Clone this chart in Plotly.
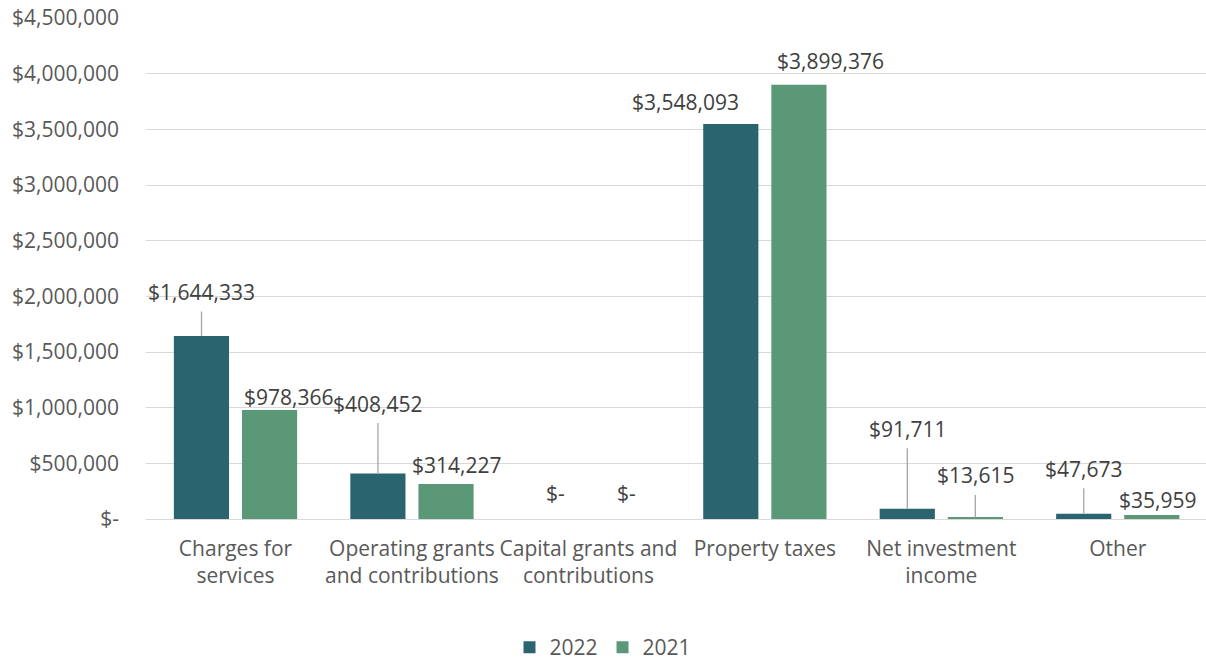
import plotly.graph_objects as go

categories = ["Charges for<br>services", "Operating grants<br>and contributions",
              "Capital grants and<br>contributions", "Property taxes",
              "Net investment<br>income", "Other"]
values_2022 = [1644333, 408452, 0, 3548093, 91711, 47673]
values_2021 = [978366, 314227, 0, 3899376, 13615, 35959]
series_names = ["2022", "2021"]
tick_vals = [0, 500000, 1000000, 1500000, 2000000, 2500000, 3000000, 3500000, 4000000, 4500000]

colors = ["#29646F", "#5A9878"]
FONT = "Open Sans"
TXT = "#595959"
FS = 21

def fmt(v):
    return "$-" if v == 0 else "${:,.0f}".format(v)

tick_text = [fmt(v) for v in tick_vals]

fig = go.Figure()
for name, vals, col in zip(series_names, [values_2022, values_2021], colors):
    fig.add_trace(go.Bar(x=categories, y=vals, name=name, marker_color=col,
                         marker_line_width=0))

# label offsets: (xshift, yshift or arrow offset, leader)
offs_2022 = [(0, -44, True), (3, -70, True), (1, 26, False), (-45, 22, False), (3, -80, True), (5, -45, True)]
offs_2021 = [(19, 13, False), (11, 19, False), (4, 26, False), (32, 24, False), (3, -42, True), (6, 15, False)]

annotations = []
for vals, offs, dx0 in [(values_2022, offs_2022, -34), (values_2021, offs_2021, 34)]:
    for cat, v, (dx, dy, leader) in zip(categories, vals, offs):
        if leader:
            annotations.append(dict(x=cat, y=v, xref="x", yref="y", text=fmt(v),
                                    showarrow=True, arrowhead=0, arrowwidth=1.3,
                                    arrowcolor="#A6A6A6", ax=0, ay=dy, xshift=dx0,
                                    standoff=0, startstandoff=4,
                                    font=dict(family=FONT, size=FS, color="#404040")))
        else:
            annotations.append(dict(x=cat, y=v, xref="x", yref="y", text=fmt(v),
                                    showarrow=False, xshift=dx0 + dx, yshift=dy,
                                    font=dict(family=FONT, size=FS, color="#404040")))

fig.update_layout(
    width=1206, height=668,
    margin=dict(l=146, r=0, t=18, b=149),
    plot_bgcolor="white", paper_bgcolor="white",
    barmode="group", bargap=0.228, bargroupgap=0.19,
    font=dict(family=FONT, size=FS, color=TXT),
    annotations=annotations,
    legend=dict(orientation="h", x=0.5, xanchor="center", xref="container",
                y=0, yanchor="bottom", yref="container",
                font=dict(family=FONT, size=FS, color=TXT), itemwidth=30,
                traceorder="normal"),
    showlegend=True,
)
fig.update_yaxes(range=[0, 4500000], tickvals=tick_vals, ticktext=tick_text,
                 showgrid=True, gridcolor="#D9D9D9", gridwidth=1.3, zeroline=True,
                 zerolinecolor="#D9D9D9", zerolinewidth=1.3, ticks="", ticklabelstandoff=26,
                 tickfont=dict(family=FONT, size=FS, color=TXT), automargin=False)
fig.update_xaxes(showgrid=False, ticks="", tickfont=dict(family=FONT, size=FS, color=TXT),
                 ticklabelstandoff=15, showline=False, tickangle=0, automargin=False)

fig.write_html("out.html")
